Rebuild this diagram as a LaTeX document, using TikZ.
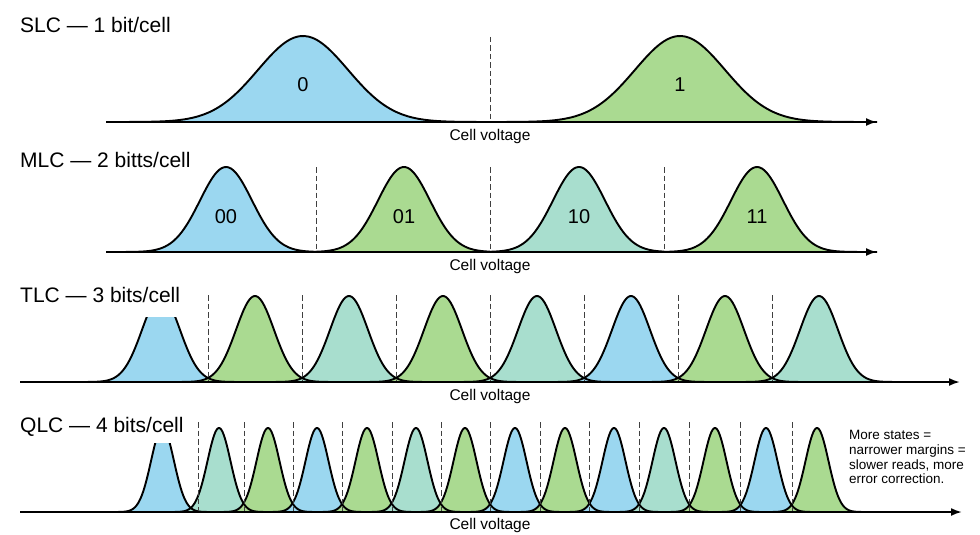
\documentclass[tikz,border=0pt]{standalone}
\usepackage{fontspec}
\setmainfont{Liberation Sans}
\usetikzlibrary{arrows.meta}
\definecolor{cblue}{HTML}{9BD7F0}
\definecolor{cgreen}{HTML}{AADA91}
\definecolor{cteal}{HTML}{A8DECE}
% #1 colour, #2 centre, #3 sigma, #4 base y, #5 height, #6 from, #7 to
\newcommand\bellfill[7]{\fill[#1] plot[domain=#6:#7, samples=90, smooth] (\x,{#4-#5*exp(-0.5*((\x-#2)/#3)^2)}) -- cycle;}
\newcommand\bellline[6]{\draw[curve] plot[domain=#5:#6, samples=90, smooth] (\x,{#3-#4*exp(-0.5*((\x-#1)/#2)^2)});}
\begin{document}
\begin{tikzpicture}[x=1pt,y=-1pt,
  curve/.style={line width=1.9pt, line join=round},
  axisline/.style={line width=1.9pt, -{Latex[length=11pt,width=8pt]}},
  sep/.style={line width=1pt, dash pattern=on 5.5pt off 3pt, draw=black!75},
  title/.style={font=\fontsize{21}{25}\selectfont, anchor=base west, inner sep=0pt},
  state/.style={font=\fontsize{20}{24}\selectfont, anchor=base, inner sep=0pt},
  axlabel/.style={font=\fontsize{15.5}{18}\selectfont, anchor=base, inner sep=0pt},
  note/.style={font=\fontsize{13.5}{14.7}\selectfont, align=left, anchor=north west, inner sep=0pt}]
\fill[white] (0,0) rectangle (980,535);
\useasboundingbox (0,0) rectangle (980,535);

% ---------- SLC ----------
\foreach \c/\col/\a/\b in {303/cblue/106/490, 680/cgreen/490/877}
  {\bellfill{\col}{\c}{45}{122}{86}{\a}{\b}}
\foreach \c/\a/\b in {303/106/490, 680/490/877}
  {\bellline{\c}{45}{122}{86}{\a}{\b}}
\draw[sep] (490,37) -- (490,122);
\draw[axisline] (106,122) -- (877,122);
\node[title] (t1) at (20,33) {SLC — 1 bit/cell};
\node[state] (s0) at (303,92) {0};
\node[state] (s1) at (680,92) {1};
\node[axlabel] (a1) at (490,140) {Cell voltage};

% ---------- MLC ----------
\foreach \c/\col/\a/\b in {226/cblue/106/316, 404/cgreen/316/490, 579/cteal/490/664, 757/cgreen/664/877}
  {\bellfill{\col}{\c}{26}{252}{85}{\a}{\b}}
\foreach \c/\a/\b in {226/106/316, 404/316/490, 579/490/664, 757/664/877}
  {\bellline{\c}{26}{252}{85}{\a}{\b}}
\foreach \d in {316,490,664} {\draw[sep] (\d,167) -- (\d,252);}
\draw[axisline] (106,252) -- (877,252);
\node[title] (t2) at (20,167) {MLC — 2 bitts/cell};
\node[state] (s00) at (226,223) {00};
\node[state] (s01) at (404,223) {01};
\node[state] (s10) at (579,223) {10};
\node[state] (s11) at (757,223) {11};
\node[axlabel] (a2) at (490,270) {Cell voltage};

% ---------- TLC ----------
\foreach \c/\col in {161/cblue, 255/cgreen, 349/cteal, 443/cgreen, 537/cteal, 631/cblue, 725/cgreen, 819/cteal}
  {\pgfmathsetmacro\lo{\c-76}\pgfmathsetmacro\hi{\c+76}\bellfill{\col}{\c}{19}{382}{86}{\lo}{\hi}}
\foreach \c in {161,255,349,443,537,631,725,819}
  {\pgfmathsetmacro\lo{\c-76}\pgfmathsetmacro\hi{\c+76}\bellline{\c}{19}{382}{86}{\lo}{\hi}}
\fill[white] (0,278) rectangle (196,317);
\foreach \d in {208,302,396,490,584,678,772} {\draw[sep] (\d,295) -- (\d,382);}
\draw[axisline] (20,382) -- (960,382);
\node[title] (t3) at (20,302) {TLC — 3 bits/cell};
\node[axlabel] (a3) at (490,400) {Cell voltage};

% ---------- QLC ----------
\foreach \c/\col in {162.5/cblue, 219/cteal, 268/cgreen, 317/cblue, 367/cgreen, 416/cteal, 465/cgreen, 515/cblue, 565/cgreen, 614/cblue, 664/cteal, 715/cgreen, 766/cblue, 817/cgreen}
  {\pgfmathsetmacro\lo{\c-46}\pgfmathsetmacro\hi{\c+46}\bellfill{\col}{\c}{11.5}{512}{84}{\lo}{\hi}}
\foreach \c in {162.5,219,268,317,367,416,465,515,565,614,664,715,766,817}
  {\pgfmathsetmacro\lo{\c-46}\pgfmathsetmacro\hi{\c+46}\bellline{\c}{11.5}{512}{84}{\lo}{\hi}}
\fill[white] (0,404) rectangle (189,443);
\foreach \d in {198,244,293,342,392,441,490,540,589,639,689,740,792} {\draw[sep] (\d,422) -- (\d,512);}
\draw[axisline] (20,512) -- (962,512);
\node[title] (t4) at (20,432) {QLC — 4 bits/cell};
\node[axlabel] (a4) at (490,529) {Cell voltage};
\node[note] (n1) at (849,430.3) {More states =\\ narrower margins =\\ slower reads, more\\ error correction.};
\end{tikzpicture}
\end{document}
